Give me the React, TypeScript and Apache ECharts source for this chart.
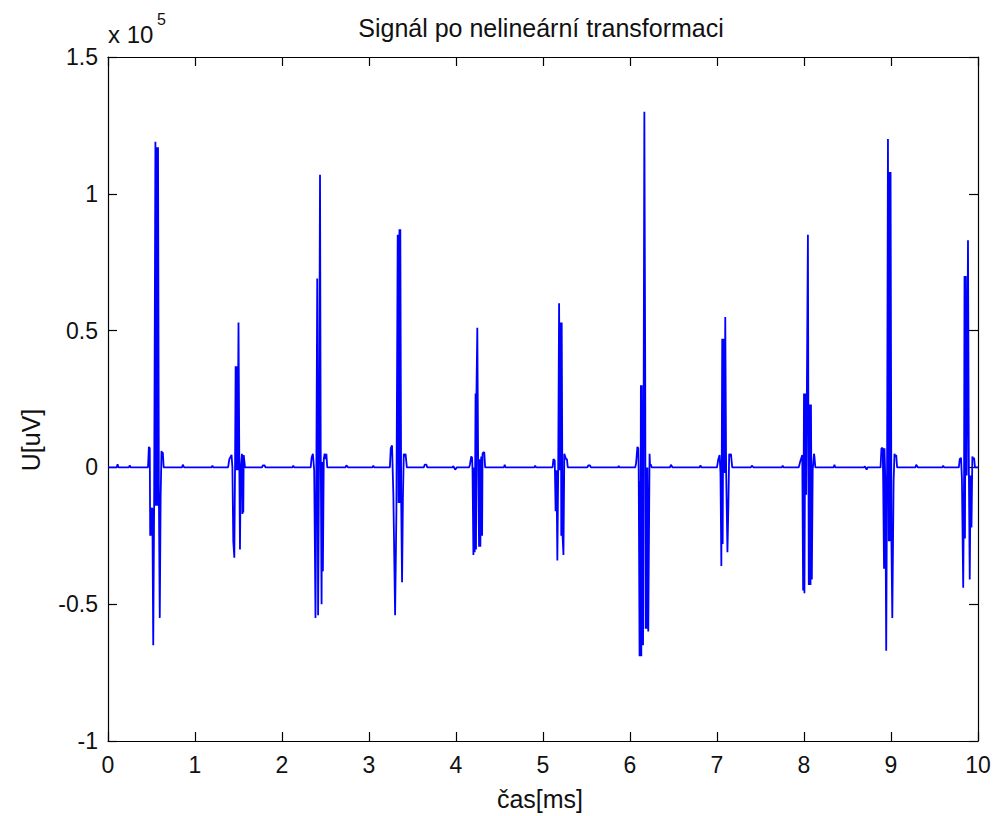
import React, { useEffect, useRef } from "react";
import * as echarts from "echarts";

// time [ms], value [uV]
const beat1: [number, number][] = [[0.46,0],[0.47,7500],[0.48,7000],[0.485,-25000],[0.49,-15000],[0.495,-25000],[0.50,-15000],[0.51,-15000],[0.52,-65000],[0.53,-15000],[0.545,119000],[0.55,-14000],[0.56,117000],[0.565,-14000],[0.575,117000],[0.585,-11000],[0.595,-55000],[0.605,-11000],[0.615,6000],[0.62,5000],[0.63,5500],[0.64,0]];
const beat2: [number, number][] = [[1.38,0],[1.395,3000],[1.42,4600],[1.43,0],[1.44,-27000],[1.452,-33000],[1.46,-1000],[1.467,37000],[1.475,-1000],[1.48,37000],[1.49,-1000],[1.50,53000],[1.51,-1000],[1.517,-30000],[1.525,-1000],[1.54,5000],[1.545,-17000],[1.55,4500],[1.555,-16500],[1.56,4500],[1.575,0]];
const beat3: [number, number][] = [[2.33,0],[2.34,3500],[2.355,5000],[2.37,-1000],[2.385,-55000],[2.395,-1000],[2.405,69000],[2.415,-54000],[2.425,500],[2.437,107000],[2.445,7000],[2.455,-50000],[2.46,2000],[2.47,-38000],[2.48,3000],[2.49,5000],[2.50,3000],[2.51,5000],[2.52,0]];
const beat4: [number, number][] = [[3.24,0],[3.25,7000],[3.265,8000],[3.28,-10000],[3.30,-54000],[3.315,-16000],[3.33,85000],[3.34,-13000],[3.35,87000],[3.355,-13000],[3.36,87000],[3.37,-12000],[3.38,-42000],[3.39,-11000],[3.40,5000],[3.41,4000],[3.42,5000],[3.435,0]];
const beat5: [number, number][] = [[4.15,0],[4.16,1000],[4.175,4000],[4.185,3500],[4.19,-1000],[4.20,-32000],[4.21,0],[4.215,-31000],[4.225,27000],[4.23,-30000],[4.235,27000],[4.245,51000],[4.255,-1000],[4.265,-29000],[4.275,3000],[4.28,-29000],[4.29,4000],[4.30,-25000],[4.305,5000],[4.315,5500],[4.325,5500],[4.335,0]];
const beat6: [number, number][] = [[5.11,0],[5.12,3000],[5.135,2500],[5.145,-16000],[5.155,-1000],[5.165,-34000],[5.175,0],[5.185,60000],[5.195,-1000],[5.205,53000],[5.21,-25000],[5.215,53000],[5.225,-25000],[5.235,-32000],[5.245,5000],[5.255,4000],[5.265,3000],[5.275,3000],[5.285,0]];
const beat7: [number, number][] = [[6.06,0],[6.07,1500],[6.085,7500],[6.095,7000],[6.10,-1000],[6.11,-69000],[6.115,-5000],[6.12,-69000],[6.125,30000],[6.13,-69000],[6.135,30000],[6.15,-65000],[6.165,130000],[6.175,34000],[6.18,-59000],[6.19,0],[6.195,-59000],[6.20,0],[6.21,-60000],[6.225,5000],[6.23,1000],[6.24,1000],[6.25,0]];
const beat8: [number, number][] = [[7.00,0],[7.015,3000],[7.03,4500],[7.04,-2000],[7.05,-36000],[7.06,47000],[7.065,-28000],[7.075,47000],[7.085,-2000],[7.095,55000],[7.105,-1000],[7.12,-31000],[7.13,-15000],[7.14,5000],[7.15,4000],[7.16,5000],[7.175,0]];
const beat9: [number, number][] = [[7.94,0],[7.955,2000],[7.98,4500],[7.99,-45000],[8.0,27000],[8.005,-46000],[8.015,27000],[8.025,-10000],[8.045,85000],[8.055,-43000],[8.065,23000],[8.075,-43000],[8.08,23000],[8.09,-41000],[8.10,-1000],[8.115,5000],[8.12,4000],[8.13,0]];
const beat10: [number, number][] = [[8.88,0],[8.89,7000],[8.905,7000],[8.91,-5000],[8.92,-37000],[8.925,7000],[8.935,-5000],[8.945,-67000],[8.955,0],[8.965,120000],[8.975,-27000],[8.985,108000],[8.99,-27000],[8.995,108000],[9.005,-27000],[9.015,-55000],[9.03,-5000],[9.04,5000],[9.05,4000],[9.06,4500],[9.07,0]];
const beat11: [number, number][] = [[9.78,0],[9.79,3000],[9.805,3500],[9.815,-4000],[9.83,-44000],[9.84,-3000],[9.845,70000],[9.85,-26000],[9.86,70000],[9.87,-3000],[9.885,83000],[9.895,-1000],[9.905,-41000],[9.915,-3000],[9.925,-22000],[9.935,4000],[9.945,3000],[9.955,3500],[9.965,0]];
const smallWaves: [number, number][] = [[0,0],[0.10,0],[0.11,1200],[0.12,0],[0.24,0],[0.25,700],[0.26,0],[0.85,0],[0.86,1000],[0.875,0],[1.19,0],[1.20,600],[1.21,0],[1.77,0],[1.78,700],[1.80,700],[1.81,0],[2.12,0],[2.13,600],[2.14,0],[2.73,0],[2.74,800],[2.76,0],[3.04,0],[3.05,600],[3.06,0],[3.63,0],[3.64,1000],[3.66,1000],[3.67,0],[3.96,0],[3.97,500],[3.99,-800],[4.01,0],[4.55,0],[4.56,1000],[4.57,0],[4.90,0],[4.91,600],[4.92,0],[5.51,0],[5.52,700],[5.54,700],[5.55,0],[5.86,0],[5.87,500],[5.88,0],[6.46,0],[6.47,1000],[6.49,0],[6.80,0],[6.81,700],[6.82,0],[7.39,0],[7.40,600],[7.42,0],[7.745,0],[7.755,600],[7.765,0],[8.34,0],[8.35,1000],[8.36,0],[8.69,0],[8.70,400],[8.72,-800],[8.73,0],[9.28,0],[9.29,1000],[9.31,0],[9.59,0],[9.60,600],[9.61,0],[10,0]];

const xTicks = [0, 10, 1]; // min, max, step [ms]
const yTicks = [-100000, 150000, 50000]; // min, max, step [uV]
const yExponent = 5;

const FONT = '"Liberation Sans", Arial, Helvetica, sans-serif';

export default function App() {
  const ref = useRef<HTMLDivElement>(null);
  useEffect(() => {
    if (!ref.current) return;
    const chart = echarts.init(ref.current, undefined, { renderer: "svg" });
    const data = [
      ...smallWaves, ...beat1, ...beat2, ...beat3, ...beat4, ...beat5, ...beat6,
      ...beat7, ...beat8, ...beat9, ...beat10, ...beat11,
    ].sort((a, b) => a[0] - b[0]);
    const scale = Math.pow(10, yExponent);
    const axisLine = { show: true, onZero: false, lineStyle: { color: "#000", width: 1.2 } };
    const tick = { show: true, inside: true, length: 9, lineStyle: { color: "#000", width: 1.2 } };
    const label = { fontSize: 23, color: "#111", fontFamily: FONT };
    chart.setOption({
      animation: false,
      backgroundColor: "#fff",
      grid: { left: 108, top: 57, width: 870, height: 684, containLabel: false },
      xAxis: [
        {
          type: "value", min: xTicks[0], max: xTicks[1], interval: xTicks[2], position: "bottom",
          axisLine, axisTick: tick, splitLine: { show: false },
          axisLabel: { ...label, margin: 12, showMinLabel: true, showMaxLabel: true },
        },
        {
          type: "value", min: xTicks[0], max: xTicks[1], interval: xTicks[2], position: "top",
          axisLine, axisTick: tick, splitLine: { show: false }, axisLabel: { show: false },
        },
      ],
      yAxis: [
        {
          type: "value", min: yTicks[0], max: yTicks[1], interval: yTicks[2], position: "left",
          axisLine, axisTick: tick, splitLine: { show: false },
          axisLabel: { ...label, margin: 10, formatter: (v: number) => String(Math.round((v / scale) * 10) / 10) },
        },
        {
          type: "value", min: yTicks[0], max: yTicks[1], interval: yTicks[2], position: "right",
          axisLine, axisTick: tick, splitLine: { show: false }, axisLabel: { show: false },
        },
      ],
      series: [
        {
          type: "line", xAxisIndex: 0, yAxisIndex: 0, data, showSymbol: false, symbol: "none",
          lineStyle: { color: "#0000ff", width: 1.8 }, silent: true, z: 1,
        },
      ],
      graphic: [
        { type: "text", x: 541, y: 28, style: { text: "Signál po nelineární transformaci", x: 0, y: 0, font: `25px ${FONT}`, fill: "#111", textAlign: "center", textVerticalAlign: "middle" } },
        { type: "text", x: 540, y: 799, style: { text: "čas[ms]", x: 0, y: 0, font: `25px ${FONT}`, fill: "#111", textAlign: "center", textVerticalAlign: "middle" } },
        { type: "text", x: 31, y: 440, rotation: Math.PI / 2, style: { text: "U[uV]", x: 0, y: 0, font: `25px ${FONT}`, fill: "#111", textAlign: "center", textVerticalAlign: "middle" } },
        { type: "text", x: 108, y: 34, style: { text: "x 10", x: 0, y: 0, font: `24px ${FONT}`, fill: "#111", textAlign: "left", textVerticalAlign: "middle" } },
        { type: "text", x: 157, y: 19, style: { text: String(yExponent), x: 0, y: 0, font: `16px ${FONT}`, fill: "#111", textAlign: "left", textVerticalAlign: "middle" } },
      ],
    });
    return () => chart.dispose();
  }, []);
  return <div ref={ref} style={{ position: "fixed", left: 0, top: 0, width: 994, height: 816 }} />;
}
